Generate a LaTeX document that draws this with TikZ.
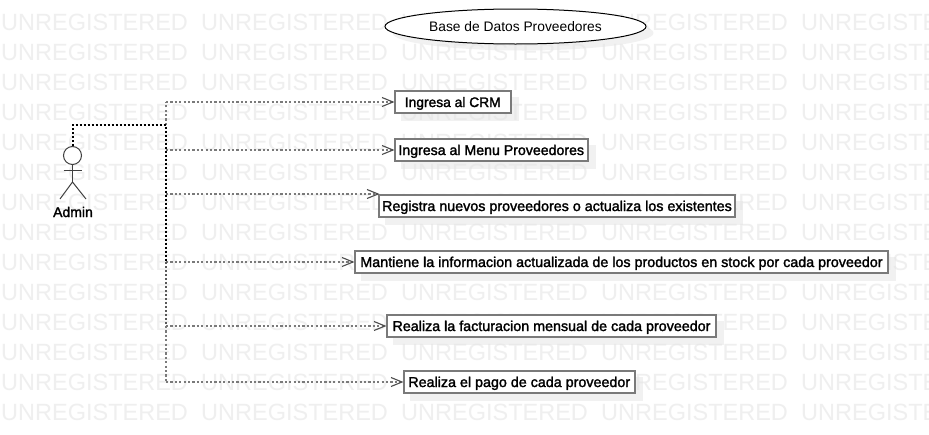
\documentclass[tikz,border=0pt]{standalone}
\usepackage{fontspec}
\usetikzlibrary{shapes.geometric}
\setmainfont{Liberation Sans}
\newfontfamily\boxfont[FakeBold=1.8]{Liberation Sans}
\newfontfamily\wmfont{Liberation Sans}
\definecolor{wm}{HTML}{EFEFEF}
\definecolor{edge}{HTML}{7A7A7A}
\definecolor{softshadow}{HTML}{E4E4E4}
\tikzset{
  wmtext/.style={anchor=west,inner sep=0pt,text=wm,font=\wmfont\fontsize{23.5}{24}\selectfont},
  usecase/.style={draw=edge,line width=2pt,fill=white,inner sep=0pt,text=black,font=\boxfont\fontsize{14.3}{14}\selectfont,minimum height=22pt,text height=13pt,text depth=3pt},
  shadowbox/.style={fill=softshadow,fill opacity=.5,draw=none},
  dep/.style={draw=edge,line width=1.5pt,dash pattern=on 2.2pt off 2.2pt},
  main/.style={draw=black,line width=2pt,dash pattern=on 2pt off 2pt},
  midline/.style={draw=black!65,line width=2pt,dash pattern=on 2pt off 2pt},
  tip/.style={draw=black!70,line width=1.1pt,line join=miter},
  actorline/.style={draw=black!75,line width=1pt}
}
\begin{document}
\begin{tikzpicture}[x=1pt,y=-1pt]
\useasboundingbox[fill=white] (0,0) rectangle (929,434);
% watermark
\foreach \r in {0,...,13}{
  \foreach \c in {0,...,4}{
    \node[wmtext] (wm\r c\c) at ({1+200*\c},{22+30*\r}) {UNREGISTERED};
  }
}
\clip (0,0) rectangle (929,434);
% ellipse
\fill[softshadow,fill opacity=.5] (523,33) ellipse (130.5 and 17.5);
\node[draw=black,line width=1pt,fill=white,ellipse,inner sep=0pt,minimum width=261pt,minimum height=35pt,font=\fontsize{13.8}{14}\selectfont] (db) at (515.5,26.5) {Base de Datos Proveedores};
% boxes
\foreach \n/\xa/\ya/\xb/\yb in {a/393.5/90/512/114,b/393.5/138/589/162,c/378/194/736/218,d/354/250/889/274,e/386/314/717/338,f/402.5/370/636/394}{
  \fill[shadowbox] (\xa+7,\ya+7) rectangle (\xb+7,\yb+7);
}
\node[usecase,minimum width=116.5pt,font=\boxfont\fontsize{13.8}{14}\selectfont] (a) at (452.75,102) {Ingresa al CRM};
\node[usecase,minimum width=193.5pt,font=\boxfont\fontsize{14.15}{14}\selectfont] (b) at (491.25,150) {Ingresa al Menu Proveedores};
\node[usecase,minimum width=356pt] (c) at (557,206) {Registra nuevos proveedores o actualiza los existentes};
\node[usecase,minimum width=533pt] (d) at (621.5,262) {Mantiene la informacion actualizada de los productos en stock por cada proveedor};
\node[usecase,minimum width=329pt] (e) at (551.5,326) {Realiza la facturacion mensual de cada proveedor};
\node[usecase,minimum width=231.5pt] (f) at (519.25,382) {Realiza el pago de cada proveedor};
% actor
\node[circle,draw=black!75,line width=1pt,fill=white,minimum size=18pt,inner sep=0pt] (head) at (72.5,155.5) {};
\coordinate (neck) at (72.5,164.5);
\coordinate (hip) at (72.5,182);
\draw[actorline] (neck) -- (hip);
\draw[actorline] (63.5,170.5) -- (82,170.5);
\draw[actorline] (60,199) -- (hip) -- (86,199);
\node[font=\boxfont\fontsize{14}{14}\selectfont,inner sep=0pt] (admin) at (73,212) {Admin};
% connectors
\coordinate (corner) at (72.5,125);
\coordinate (trunk) at (166,125);
\foreach \t/\y/\ex in {a/102/393,b/150/393,c/194/378,d/262/353,e/326/385,f/382/402}{
  \coordinate (j\t) at (166,\y);
  \coordinate (k\t) at (\ex,\y);
  \draw[dep] (j\t) -- (k\t);
  \draw[tip] (\ex-11,\y-4.5) -- (k\t) -- (\ex-11,\y+4.5);
}
\draw[dep] (trunk) -- (ja);
\draw[dep] (je) -- (jf);
\draw[midline] (jd) -- (je);
\draw[main] (head.north) -- (corner) -- (trunk) -- (jd);
\end{tikzpicture}
\end{document}
